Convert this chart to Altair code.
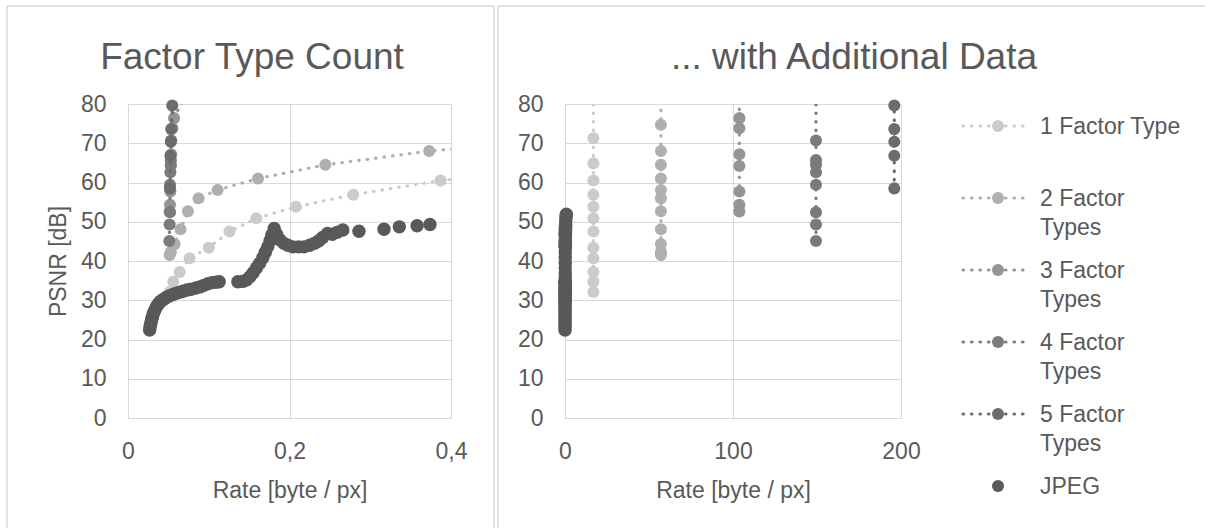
import altair as alt
import pandas as pd

# ---------------- data ----------------
SERIES = ["1 Factor Type", "2 Factor Types", "3 Factor Types",
          "4 Factor Types", "5 Factor Types", "JPEG"]
LEGEND_LABELS = ["1 Factor Type", "2 Factor\nTypes", "3 Factor\nTypes",
                 "4 Factor\nTypes", "5 Factor\nTypes", "JPEG"]
COLORS = ["#cbcbcb", "#afafaf", "#959595", "#7b7b7b", "#6c6c6c", "#595959"]

F1_RATE = [0.0515, 0.056, 0.064, 0.0763, 0.1, 0.1257, 0.159, 0.208, 0.279, 0.387, 0.62, 1.1, 2.5]
F1_PSNR = [32.1, 34.7, 37.2, 40.7, 43.4, 47.5, 50.9, 53.8, 56.9, 60.5, 64.9, 71.3, 86.0]

F2_RATE = [0.0516, 0.053, 0.0577, 0.065, 0.0742, 0.0874, 0.111, 0.161, 0.2444, 0.373, 0.75, 1.6]
F2_PSNR = [41.5, 42.3, 44.3, 48.1, 52.7, 56.0, 58.1, 61.0, 64.5, 68.0, 74.7, 86.0]

F3_RATE = [0.0515, 0.052, 0.0525, 0.053, 0.0535, 0.055, 0.057, 0.08]
F3_PSNR = [52.6, 54.3, 57.7, 64.2, 67.2, 73.8, 76.4, 86.0]

F4_RATE = [0.0512, 0.0515, 0.052, 0.052, 0.0525, 0.053, 0.053, 0.0535, 0.058]
F4_PSNR = [45.1, 49.3, 52.4, 59.4, 62.6, 64.5, 65.7, 70.7, 88.0]

F5_RATE = [0.052, 0.0525, 0.053, 0.0535, 0.0548]
F5_PSNR = [58.5, 66.8, 70.4, 73.6, 79.6]

JPEG_RATE = [0.0268, 0.0272, 0.0277, 0.0283, 0.029, 0.0297, 0.0305, 0.0314, 0.0324, 0.0335,
             0.0347, 0.036, 0.0375, 0.039, 0.041, 0.043, 0.045, 0.048, 0.051, 0.055,
             0.059, 0.063, 0.068, 0.073, 0.078, 0.084, 0.089, 0.094, 0.099, 0.104,
             0.109, 0.113, 0.136, 0.142, 0.147, 0.151, 0.155, 0.159, 0.163, 0.167,
             0.17, 0.173, 0.176, 0.178, 0.181, 0.184, 0.188, 0.193, 0.198, 0.204,
             0.211, 0.218, 0.225, 0.231, 0.236, 0.241, 0.247, 0.253, 0.259, 0.266,
             0.286, 0.317, 0.336, 0.358, 0.374, 0.43, 0.52, 0.65, 0.8]
JPEG_PSNR = [22.4, 23.0, 23.6, 24.2, 24.8, 25.4, 26.0, 26.6, 27.1, 27.6,
             28.1, 28.6, 29.0, 29.4, 29.8, 30.1, 30.4, 30.8, 31.1, 31.4,
             31.7, 32.0, 32.3, 32.6, 32.8, 33.1, 33.4, 33.8, 34.2, 34.5,
             34.6, 34.7, 34.7, 34.8, 35.2, 36.0, 37.0, 38.2, 39.4, 40.8,
             42.2, 43.6, 45.2, 46.6, 48.3, 46.8, 45.4, 44.5, 44.0, 43.6,
             43.6, 43.6, 44.0, 44.5, 45.1, 46.0, 47.0, 46.8, 47.3, 47.9,
             47.6, 48.1, 48.7, 49.0, 49.3, 50.0, 50.8, 51.5, 51.9]

# rate of each factor-type series once the additional data is included (right panel)
RIGHT_RATE = {"1 Factor Type": 16.9, "2 Factor Types": 57.1, "3 Factor Types": 103.8,
              "4 Factor Types": 149.4, "5 Factor Types": 196.0}

LEFT_X_TICKS = [0, 0.2, 0.4]
RIGHT_X_TICKS = [0, 100, 200]
Y_TICKS = [0, 10, 20, 30, 40, 50, 60, 70, 80]

# ---------------- styling ----------------
FONT = "Liberation Sans"
TXT = "#595959"
GRID = "#d9d9d9"
BORDER = "#d9d9d9"
FS = 23
TITLE_FS = 37
DOT = dict(strokeDash=[0.5, 8], strokeCap="round", strokeWidth=3.2)
PT_SIZE = 145
JPEG_SIZE = 180

rate_lists = [F1_RATE, F2_RATE, F3_RATE, F4_RATE, F5_RATE, JPEG_RATE]
psnr_lists = [F1_PSNR, F2_PSNR, F3_PSNR, F4_PSNR, F5_PSNR, JPEG_PSNR]

rows = []
for s, rates, psnrs in zip(SERIES, rate_lists, psnr_lists):
    for i, (r, p) in enumerate(zip(rates, psnrs)):
        rows.append({"series": s, "i": i, "rate": r, "psnr": p,
                     "rate_add": RIGHT_RATE.get(s, r)})
df = pd.DataFrame(rows)
dummy = pd.DataFrame({"a": [0]})

W_L, W_R, H = 323, 336, 314


def x_axis(values, label_expr=None):
    kw = dict(values=values, grid=True, gridColor=GRID, gridWidth=1,
              domainColor=GRID, domainWidth=1, ticks=False, tickSize=0,
              labelPadding=22, labelFlush=False, labelFont=FONT, labelFontSize=FS,
              labelColor=TXT, minExtent=46, maxExtent=46,
              titleFont=FONT, titleFontSize=FS, titleColor=TXT,
              titleFontWeight="normal", titlePadding=15)
    if label_expr:
        kw["labelExpr"] = label_expr
    return alt.Axis(**kw)


def y_axis(title):
    kw = dict(values=Y_TICKS, grid=True, gridColor=GRID, gridWidth=1,
              domainColor=GRID, domainWidth=1, ticks=False, tickSize=0,
              labelPadding=22, labelFont=FONT, labelFontSize=FS, labelColor=TXT,
              minExtent=40, maxExtent=40,
              titleFont=FONT, titleFontSize=FS, titleColor=TXT,
              titleFontWeight="normal", titlePadding=18)
    return alt.Axis(**kw)


def panel(xfield, xdomain, xaxis, ytitle, title, title_x, borders):
    X = alt.X(f"{xfield}:Q", scale=alt.Scale(domain=xdomain, nice=False, zero=False),
              axis=xaxis, title="Rate [byte / px]")
    Y = alt.Y("psnr:Q", scale=alt.Scale(domain=[0, 80], nice=False),
              axis=y_axis(ytitle), title=ytitle)
    layers = []
    for s, c in zip(SERIES, COLORS):
        sub = df[df["series"] == s]
        if s != "JPEG":
            layers.append(alt.Chart(sub).mark_line(color=c, clip=True, **DOT)
                          .encode(x=X, y=Y, order="i:Q"))
        inside = sub[(sub[xfield] <= xdomain[1]) & (sub["psnr"] <= 80)]
        size = JPEG_SIZE if s == "JPEG" else PT_SIZE
        layers.append(alt.Chart(inside).mark_circle(color=c, opacity=1, size=size)
                      .encode(x=X, y=Y))
    # chart title
    layers.append(alt.Chart(dummy).mark_text(text=title, font=FONT, fontSize=TITLE_FS,
                                             color=TXT, align="center", baseline="alphabetic")
                  .encode(x=alt.value(title_x), y=alt.value(-35)))
    # chart-area borders
    for b in borders:
        layers.append(alt.Chart(dummy).mark_rule(color=BORDER, strokeWidth=1.5)
                      .encode(**{k: alt.value(v) for k, v in b.items()}))
    return alt.layer(*layers)


left = panel("rate", [0, 0.4],
             x_axis(LEFT_X_TICKS, "datum.value == 0 ? '0' : replace(format(datum.value, '.1f'), '.', ',')"),
             "PSNR [dB]", "Factor Type Count", 124,
             [dict(x=-121, y=-98, y2=424), dict(x=-121, x2=366, y=-98), dict(x=366, y=-98, y2=424)]
             ).properties(width=W_L, height=H)

right_data = panel("rate_add", [0, 200], x_axis(RIGHT_X_TICKS), None,
                   "... with Additional Data", 289,
                   [dict(x=-67, y=-98, y2=424), dict(x=-67, x2=640, y=-98)])

# legend built from the same series (entry index -> evenly spaced rows)
leg = pd.DataFrame({"series": SERIES, "label": LEGEND_LABELS, "k": list(range(len(SERIES)))})
LY = alt.Y("k:Q", scale=alt.Scale(domain=[0, 5], range=[22, 382], nice=False, zero=False), axis=None)
LC = alt.Color("series:N", scale=alt.Scale(domain=SERIES, range=COLORS), legend=None)
leg_line = alt.Chart(leg[leg["series"] != "JPEG"]).mark_rule(**DOT).encode(
    x=alt.value(398), x2=alt.value(462), y=LY, color=LC)
leg_pt = alt.Chart(leg).mark_circle(opacity=1, size=PT_SIZE).encode(x=alt.value(433), y=LY, color=LC)
leg_txt = alt.Chart(leg).mark_text(align="left", baseline="alphabetic", dy=8, lineBreak="\n",
                                   lineHeight=29, font=FONT, fontSize=FS, color=TXT).encode(
    x=alt.value(475), y=LY, text="label:N")
legend = alt.layer(leg_line, leg_pt, leg_txt)

right = alt.layer(right_data, legend).resolve_scale(y="independent").properties(width=W_R, height=H)

chart = (alt.hconcat(left, right, spacing=2)
         .resolve_scale(x="independent", y="independent", color="independent")
         .properties(padding={"left": 6, "top": 5, "right": 0, "bottom": 0}, background="white")
         .configure_view(stroke=None))

chart.save("out.html", embed_options={"renderer": "svg", "actions": False})
